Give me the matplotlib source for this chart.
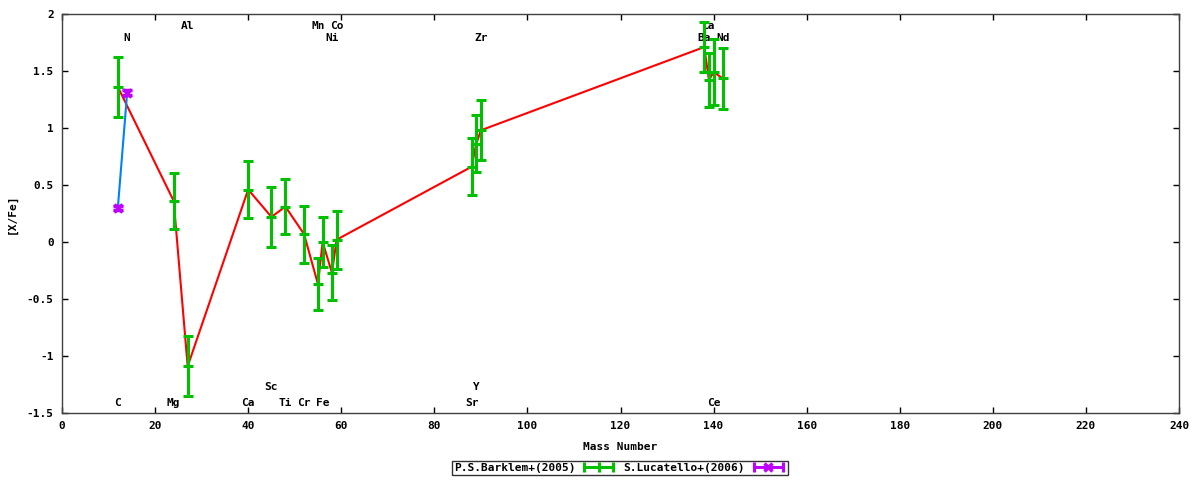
import numpy as np
import matplotlib
matplotlib.use('Agg')
from matplotlib import pyplot as plt
from matplotlib.lines import Line2D
from matplotlib.legend_handler import HandlerLine2D, HandlerTuple

# P.S.Barklem+(2005)
barklem_mass = [12, 24, 27, 40, 45, 48, 52, 55, 56, 58, 59, 88, 89, 90, 138, 139, 140, 142]
barklem_xfe = [1.36, 0.36, -1.09, 0.46, 0.22, 0.31, 0.07, -0.37, 0.00, -0.27, 0.02,
               0.66, 0.86, 0.98, 1.71, 1.42, 1.49, 1.435]
barklem_err = [0.26, 0.245, 0.265, 0.25, 0.26, 0.24, 0.25, 0.23, 0.22, 0.24, 0.255,
               0.25, 0.25, 0.265, 0.22, 0.24, 0.29, 0.265]

# S.Lucatello+(2006)
lucatello_mass = [12, 14]
lucatello_xfe = [0.30, 1.31]
lucatello_err = [0.02, 0.02]

# element names along the top / bottom of the plot
elem_names = ['C', 'N', 'Mg', 'Al', 'Ca', 'Sc', 'Ti', 'Cr', 'Mn', 'Fe', 'Co', 'Ni',
              'Sr', 'Y', 'Zr', 'Ba', 'La', 'Ce', 'Nd']
elem_mass = [12, 14, 24, 27, 40, 45, 48, 52, 55, 56, 59, 58, 88, 89, 90, 138, 139, 140, 142]
elem_ypos = [-1.41, 1.79, -1.41, 1.895, -1.41, -1.27, -1.41, -1.41, 1.895, -1.41, 1.895, 1.79,
             -1.41, -1.27, 1.79, 1.79, 1.895, -1.41, 1.79]

RED = '#ff0000'
GREEN = '#00c000'
BLUE = '#0080ff'
PURPLE = '#c000ff'
FONT = dict(family='DejaVu Sans Mono', weight='bold', size=8)


def main():
    plt.rcParams['font.family'] = 'DejaVu Sans Mono'
    plt.rcParams['font.weight'] = 'bold'
    plt.rcParams['font.size'] = 8

    fig = plt.figure(figsize=(12, 4.8), dpi=100)
    ax = fig.add_axes([62 / 1200, 1 - 413 / 480, 1117 / 1200, 399 / 480])

    # element labels (behind the data)
    for name, m, y in zip(elem_names, elem_mass, elem_ypos):
        ax.text(m, y, name, ha='center', va='center', zorder=1, **FONT)

    # connecting lines
    ax.plot(barklem_mass, barklem_xfe, color=RED, lw=1.5, zorder=2)
    ax.plot(lucatello_mass, lucatello_xfe, color=BLUE, lw=1.5, zorder=2)

    # error bars
    ax.errorbar(barklem_mass, barklem_xfe, yerr=barklem_err, fmt='_', color=GREEN,
                ms=7, mew=2.2, elinewidth=2.2, capsize=3.6, capthick=2.2, zorder=3)
    ax.errorbar(lucatello_mass, lucatello_xfe, yerr=lucatello_err, fmt='x', color=PURPLE,
                ms=6, mew=2.5, elinewidth=2.2, capsize=3.6, capthick=2.2, zorder=4)

    ax.set_xlim(0, 240)
    ax.set_ylim(-1.5, 2)
    ax.set_xticks(np.arange(0, 241, 20))
    ax.set_yticks(np.arange(-1.5, 2.01, 0.5))
    ax.set_yticklabels(['-1.5', '-1', '-0.5', '0', '0.5', '1', '1.5', '2'])
    ax.tick_params(direction='in', length=4, width=1, top=True, right=True, pad=6,
                   labelsize=8, colors='black')
    for sp in ax.spines.values():
        sp.set_linewidth(1)
        sp.set_color('#404040')

    ax.set_xlabel('Mass Number', **FONT)
    ax.set_ylabel('[X/Fe]', **FONT)
    ax.xaxis.set_label_coords(0.5, -0.085)
    ax.xaxis.label.set_va('center')
    ax.yaxis.set_label_coords(-0.045, 0.5)
    ax.yaxis.label.set_va('center')

    # gnuplot-like key: text first, sample after
    h_green = Line2D([], [], color=GREEN, lw=2.2, marker='|', ms=7, mew=2.2)
    h_purple_line = Line2D([], [], color=PURPLE, lw=2.2, marker='|', ms=7, mew=2.2)
    h_purple_x = Line2D([], [], color=PURPLE, lw=0, marker='x', ms=6, mew=2.5)
    hmap = {h_green: HandlerLine2D(numpoints=3),
            h_purple_line: HandlerLine2D(numpoints=2),
            h_purple_x: HandlerLine2D(numpoints=1),
            tuple: HandlerTuple(ndivide=1)}
    leg = fig.legend([h_green, (h_purple_line, h_purple_x)],
                     ['P.S.Barklem+(2005)', 'S.Lucatello+(2006)'],
                     handler_map=hmap, ncol=2, markerfirst=False,
                     loc='center', bbox_to_anchor=(620 / 1200, 1 - 468 / 480),
                     prop=FONT, frameon=True, fancybox=False, handlelength=3.2,
                     handletextpad=0.5, columnspacing=0.6, borderpad=0.15,
                     borderaxespad=0)
    leg.get_frame().set_edgecolor('black')
    leg.get_frame().set_linewidth(1)

    fig.savefig('out.png', dpi=100)


if __name__ == '__main__':
    main()
